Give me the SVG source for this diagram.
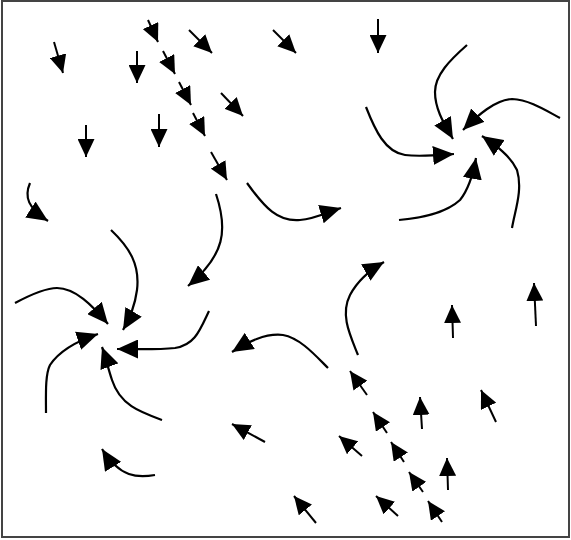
<svg xmlns="http://www.w3.org/2000/svg" width="571" height="540" viewBox="0 0 571 540">
<defs>
<marker id="hs" markerUnits="userSpaceOnUse" markerWidth="18" markerHeight="17" refX="18" refY="8.5" orient="auto" viewBox="0 0 18 17"><path d="M0,0 L18,8.5 L0,17 Z" fill="#000"/></marker>
<marker id="hc" markerUnits="userSpaceOnUse" markerWidth="21" markerHeight="19" refX="21" refY="9.5" orient="auto" viewBox="0 0 21 19"><path d="M0,0 L21,9.5 L0,19 Z" fill="#000"/></marker>
<style>
.s{fill:none;stroke:#000;stroke-width:2;marker-end:url(#hs)}
.c{fill:none;stroke:#000;stroke-width:2.2;marker-end:url(#hc)}
</style>
</defs>
<rect x="0" y="0" width="571" height="540" fill="#fff"/>
<rect x="2" y="1" width="567" height="536" fill="none" stroke="#444" stroke-width="2"/>
<g id="straight">
<path class="s" d="M54,42 L63,73"/>
<path class="s" d="M148,20 L158,42"/>
<path class="s" d="M189,30 L212,53"/>
<path class="s" d="M137,51 L137,83"/>
<path class="s" d="M163,51 L175,74"/>
<path class="s" d="M179,82 L191,105"/>
<path class="s" d="M221,93 L243,116"/>
<path class="s" d="M159,114 L159,147"/>
<path class="s" d="M193,113 L205,136"/>
<path class="s" d="M86,125 L86,157"/>
<path class="s" d="M211,152 L227,180"/>
<path class="s" d="M273,30 L296,53"/>
<path class="s" d="M378,19 L378,53"/>
<path class="s" d="M265,442 L232,424"/>
<path class="s" d="M367,395 L350,371"/>
<path class="s" d="M453,338 L452,305"/>
<path class="s" d="M536,326 L534,283"/>
<path class="s" d="M422,429 L420,397"/>
<path class="s" d="M496,422 L481,390"/>
<path class="s" d="M387,433 L373,412"/>
<path class="s" d="M362,456 L339,436"/>
<path class="s" d="M404,462 L391,442"/>
<path class="s" d="M448,490 L447,458"/>
<path class="s" d="M423,492 L409,472"/>
<path class="s" d="M316,523 L294,496"/>
<path class="s" d="M398,516 L376,496"/>
<path class="s" d="M442,522 L428,501"/>
</g>
<g id="curved">
<path class="c" d="M30,183 C24,197 28,208 48,221"/>
<path class="c" d="M247,183 C265,208 278,222 300,220 C315,219 328,212 341,208"/>
<path class="c" d="M216,194 C228,230 225,255 188,286"/>
<path class="c" d="M328,368 C315,355 300,338 283,335 C265,333 248,342 232,352"/>
<path class="c" d="M155,475 C138,478 120,478 102,449"/>
<path class="c" d="M358,355 C350,335 340,315 350,295 C358,280 370,270 384,262"/>
</g>
<g id="vortex-left">
<path class="c" d="M111,230 C130,248 140,265 137,290 C135,305 130,318 123,330"/>
<path class="c" d="M15,303 C30,295 45,288 57,288 C75,288 92,305 108,324"/>
<path class="c" d="M209,311 C200,330 195,345 175,348 C155,350 135,349 117,349"/>
<path class="c" d="M46,413 C46,395 45,375 50,365 C60,350 80,340 98,334"/>
<path class="c" d="M162,420 C140,412 120,405 112,380 C108,368 105,355 102,347"/>
</g>
<g id="vortex-right">
<path class="c" d="M467,45 C450,60 435,75 435,92 C435,110 445,125 453,139"/>
<path class="c" d="M560,118 C545,110 530,100 512,99 C495,100 478,115 463,130"/>
<path class="c" d="M366,107 C375,130 385,152 405,155 C420,157 440,155 454,154"/>
<path class="c" d="M399,220 C420,218 445,214 460,200 C468,190 473,175 476,158"/>
<path class="c" d="M512,228 C515,210 523,190 517,170 C510,155 495,145 482,136"/>
</g>
</svg>
